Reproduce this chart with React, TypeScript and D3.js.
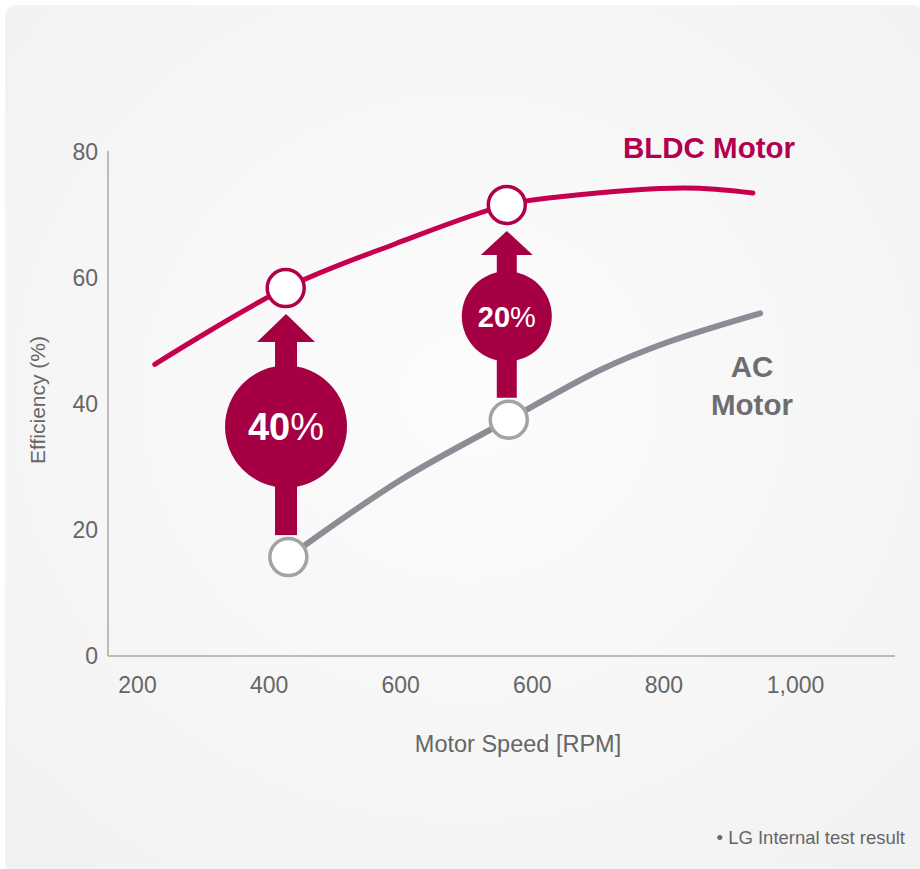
import * as d3 from "d3";
import { useEffect, useRef } from "react";

// axis ticks (the reference repeats "600" on its axis, kept as drawn)
const xTicks = [200, 400, 600, 800, 1000, 1200];
const xTickLabels = ["200", "400", "600", "600", "800", "1,000"];
const yTicks = [0, 20, 40, 60, 80];

// BLDC motor curve
const bldcRpm = [227, 426, 592, 762, 843, 1033, 1136];
const bldcEff = [46.3, 58.4, 65.4, 71.6, 72.9, 74.3, 73.5];

// AC motor curve
const acRpm = [430, 600, 765, 904, 1006, 1147];
const acEff = [15.7, 27.9, 37.5, 45.4, 49.8, 54.4];

// highlighted comparisons: index into ac / bldc arrays
const gainLabels = ["40", "20"];
const gainAcIdx = [0, 2];
const gainBldcIdx = [1, 3];

const W = 920;
const H = 869;

export default function App() {
  const axisRef = useRef<SVGGElement>(null);

  const x = d3.scaleLinear().domain([200, 1200]).range([137, 795]);
  const y = d3.scaleLinear().domain([0, 80]).range([656, 152]);

  const line = d3
    .line<[number, number]>()
    .x((d) => x(d[0]))
    .y((d) => y(d[1]))
    .curve(d3.curveCatmullRom.alpha(0.5));

  const bldc: [number, number][] = bldcRpm.map((r, i) => [r, bldcEff[i]]);
  const ac: [number, number][] = acRpm.map((r, i) => [r, acEff[i]]);

  useEffect(() => {
    if (!axisRef.current) return;
    const g = d3.select(axisRef.current);
    g.selectAll("*").remove();

    // axis lines
    g.append("line")
      .attr("x1", 108).attr("x2", 108)
      .attr("y1", 151).attr("y2", y(0))
      .attr("stroke", "#a8a8a8").attr("stroke-width", 1.5);
    g.append("line")
      .attr("x1", 108).attr("x2", 895)
      .attr("y1", y(0)).attr("y2", y(0))
      .attr("stroke", "#a8a8a8").attr("stroke-width", 1.5);

    const yAxis = g.append("g")
      .attr("transform", "translate(108,0)")
      .call(d3.axisLeft(y).tickValues(yTicks).tickSize(0).tickPadding(10));
    yAxis.select(".domain").remove();

    const xAxis = g.append("g")
      .attr("transform", `translate(0,${y(0)})`)
      .call(
        d3.axisBottom(x)
          .tickValues(xTicks)
          .tickSize(0)
          .tickPadding(21)
          .tickFormat((_, i) => xTickLabels[i])
      );
    xAxis.select(".domain").remove();

    g.selectAll(".tick text")
      .attr("fill", "#666")
      .style("font-family", "'Liberation Sans', Arial, sans-serif")
      .style("font-size", "23px");
  }, []);

  const font = "'Liberation Sans', Arial, sans-serif";

  return (
    <svg
      width={W}
      height={H}
      style={{ position: "absolute", left: 0, top: 0 }}
      fontFamily={font}
    >
      <defs>
        <radialGradient id="bg" cx="50%" cy="45%" r="70%">
          <stop offset="0%" stopColor="#fcfcfc" />
          <stop offset="100%" stopColor="#f2f2f2" />
        </radialGradient>
      </defs>
      <rect width={W} height={H} fill="#fff" />
      <rect x={5} y={5} width={W} height={H} rx={12} fill="url(#bg)" />

      <g ref={axisRef} />

      <text
        transform={`translate(45,400) rotate(-90)`}
        textAnchor="middle"
        fill="#666"
        fontSize={21}
      >
        Efficiency (%)
      </text>
      <text x={518} y={752} textAnchor="middle" fill="#666" fontSize={23.5}>
        Motor Speed [RPM]
      </text>

      {/* curves */}
      <path d={line(bldc) ?? ""} fill="none" stroke="#c6004f" strokeWidth={5} strokeLinecap="round" />
      <path d={line(ac) ?? ""} fill="none" stroke="#8a8d94" strokeWidth={6} strokeLinecap="round" />

      {/* gain arrows */}
      {gainLabels.map((lab, k) => {
        const cx = x(acRpm[gainAcIdx[k]]) * 0.5 + x(bldcRpm[gainBldcIdx[k]]) * 0.5 - 1;
        const yTop = y(bldcEff[gainBldcIdx[k]]) + 26;
        const yBot = y(acEff[gainAcIdx[k]]) - 22;
        const big = k === 0;
        const headH = big ? 28 : 24;
        const headW = big ? 29 : 26;
        const shaft = big ? 11 : 10;
        const r = big ? 61 : 45;
        const cy = (yTop + yBot) / 2 + 2;
        const fs = big ? 38 : 29;
        return (
          <g key={lab} fill="#a50044">
            <rect x={cx - shaft} y={yTop + headH - 1} width={shaft * 2} height={yBot - yTop - headH + 1} />
            <path d={`M${cx},${yTop} L${cx + headW},${yTop + headH} L${cx - headW},${yTop + headH} Z`} />
            <circle cx={cx} cy={cy} r={r} />
            <text x={cx} y={cy + fs * 0.36} textAnchor="middle" fill="#fff" fontSize={fs} fontWeight="bold">
              {lab}
              <tspan fontWeight="normal">%</tspan>
            </text>
          </g>
        );
      })}

      {/* markers */}
      {gainBldcIdx.map((i) => (
        <circle key={"b" + i} cx={x(bldcRpm[i])} cy={y(bldcEff[i])} r={18.5} fill="#fff" stroke="#b0004a" strokeWidth={3.5} />
      ))}
      {gainAcIdx.map((i) => (
        <circle key={"a" + i} cx={x(acRpm[i])} cy={y(acEff[i])} r={18.5} fill="#fff" stroke="#a3a3a3" strokeWidth={3.5} />
      ))}

      {/* series labels */}
      <text x={709} y={158} textAnchor="middle" fill="#b2004d" fontSize={29.5} fontWeight="bold">
        BLDC Motor
      </text>
      <text x={752} y={377} textAnchor="middle" fill="#6e6e6e" fontSize={29.5} fontWeight="bold">
        AC
      </text>
      <text x={752} y={415} textAnchor="middle" fill="#6e6e6e" fontSize={29.5} fontWeight="bold">
        Motor
      </text>

      <text x={905} y={844} textAnchor="end" fill="#666" fontSize={18.5}>
        • LG Internal test result
      </text>
    </svg>
  );
}
